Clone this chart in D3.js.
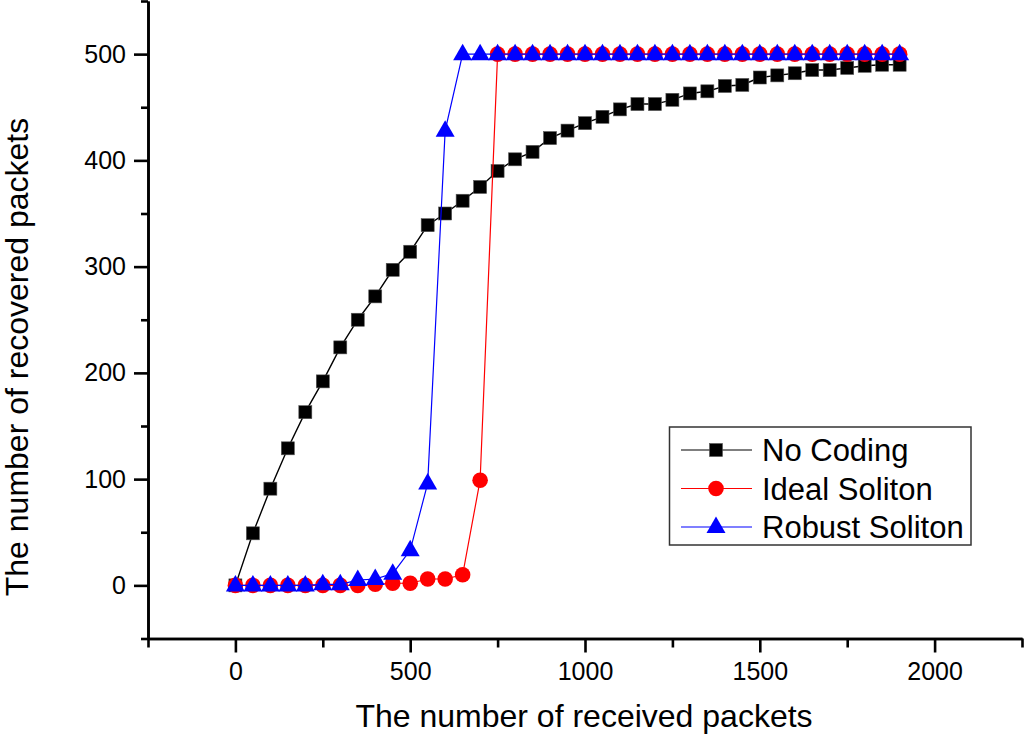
<!DOCTYPE html>
<html>
<head>
<meta charset="utf-8">
<script src="https://cdn.jsdelivr.net/npm/d3@7"></script>
<style>
  body { margin: 0; background: #fff; }
  svg { display: block; font-family: Arial, "Liberation Sans", sans-serif; }
</style>
</head>
<body>
<svg id="chart" width="1024" height="736"></svg>
<script>
// received packets (x), one value every 50 packets
var received = d3.range(0, 1901, 50);

var noCoding = [0, 49, 91, 129, 163, 192, 224, 250, 272, 297, 314, 339, 350, 362, 375, 390, 401,
  408, 421, 428, 435, 441, 448, 453, 453, 457, 463, 465, 470, 471, 478, 480, 482, 485, 485, 487, 489, 490, 490];

var idealSoliton = [0, 0, 0, 0, 0, 0, 0, 0, 1, 2, 2, 6, 6, 10, 99,
  500, 500, 500, 500, 500, 500, 500, 500, 500, 500, 500, 500, 500, 500, 500, 500, 500, 500, 500, 500, 500, 500, 500, 500];

var robustSoliton = [0, 0, 0, 0, 0, 1, 1, 5, 6, 11, 33, 96, 428,
  500, 500, 500, 500, 500, 500, 500, 500, 500, 500, 500, 500, 500, 500, 500, 500, 500, 500, 500, 500, 500, 500, 500, 500, 500, 500];

var seriesNames = ["No Coding", "Ideal Soliton", "Robust Soliton"];
var seriesColours = ["#000000", "#ff0000", "#0000ff"];
var xMajor = [0, 500, 1000, 1500, 2000];
var yMajor = [0, 100, 200, 300, 400, 500];

var svg = d3.select("#chart");

var x = d3.scaleLinear().domain([-250, 2250]).range([148, 1022]);
var y = d3.scaleLinear().domain([-50, 550]).range([638.5, 1]);

// minor ticks first, then the labelled axes on top
var xMinor = d3.range(-250, 2251, 250).filter(function(d) { return xMajor.indexOf(d) < 0; });
var yMinor = d3.range(-50, 551, 50).filter(function(d) { return yMajor.indexOf(d) < 0; });

svg.append("g")
  .attr("transform", "translate(0," + y(-50) + ")")
  .call(d3.axisBottom(x).tickValues(xMinor).tickSize(9).tickSizeOuter(0).tickFormat(""));

svg.append("g")
  .attr("transform", "translate(" + x(-250) + ",0)")
  .call(d3.axisLeft(y).tickValues(yMinor).tickSize(7).tickSizeOuter(0).tickFormat(""));

svg.append("g")
  .attr("transform", "translate(0," + y(-50) + ")")
  .call(d3.axisBottom(x).tickValues(xMajor).tickSize(14).tickSizeOuter(0).tickPadding(10)
    .tickFormat(d3.format("d")));

svg.append("g")
  .attr("transform", "translate(" + x(-250) + ",0)")
  .call(d3.axisLeft(y).tickValues(yMajor).tickSize(14).tickSizeOuter(0).tickPadding(8)
    .tickFormat(d3.format("d")));

svg.selectAll(".domain, .tick line")
  .attr("stroke", "#000")
  .attr("stroke-width", 2.6);

svg.selectAll(".tick text")
  .attr("fill", "#000")
  .attr("font-size", 25)
  .attr("font-family", "Arial, 'Liberation Sans', sans-serif");

// axis titles
svg.append("text")
  .attr("x", 584)
  .attr("y", 727)
  .attr("text-anchor", "middle")
  .attr("font-size", 32)
  .text("The number of received packets");

svg.append("text")
  .attr("transform", "translate(28," + 357 + ") rotate(-90)")
  .attr("text-anchor", "middle")
  .attr("font-size", 32)
  .text("The number of recovered packets");

// series
var allSeries = [noCoding, idealSoliton, robustSoliton];

var line = d3.line()
  .x(function(d, i) { return x(received[i]); })
  .y(function(d) { return y(d); });

var triangle = "M0,-10.5L9.5,6L-9.5,6Z";

function marker(sel, k) {
  if (k === 0) {
    sel.append("rect")
      .attr("x", -6.5).attr("y", -6.5)
      .attr("width", 13).attr("height", 13)
      .attr("fill", "#000")
      .attr("stroke", "#555")
      .attr("stroke-width", 0.6);
  } else if (k === 1) {
    sel.append("circle")
      .attr("r", 7.8)
      .attr("fill", seriesColours[1]);
  } else {
    sel.append("path")
      .attr("d", triangle)
      .attr("fill", seriesColours[2]);
  }
}

allSeries.forEach(function(values, k) {
  var g = svg.append("g");
  g.append("path")
    .datum(values)
    .attr("fill", "none")
    .attr("stroke", seriesColours[k])
    .attr("stroke-width", k === 0 ? 1.4 : 1.2)
    .attr("d", line);

  g.selectAll(null)
    .data(values)
    .enter().append("g")
    .attr("transform", function(d, i) { return "translate(" + x(received[i]) + "," + y(d) + ")"; })
    .each(function() { marker(d3.select(this), k); });
});

// legend
var legend = svg.append("g");
legend.append("rect")
  .attr("x", 669.5).attr("y", 427)
  .attr("width", 301.5).attr("height", 118)
  .attr("fill", "#fff")
  .attr("stroke", "#333")
  .attr("stroke-width", 1.5);

seriesNames.forEach(function(name, k) {
  var rowY = 450 + k * 38.5;
  var row = legend.append("g");
  row.append("line")
    .attr("x1", 681).attr("x2", 752)
    .attr("y1", rowY).attr("y2", rowY)
    .attr("stroke", seriesColours[k])
    .attr("stroke-width", 1.2);
  var m = row.append("g").attr("transform", "translate(716," + rowY + ")");
  marker(m, k);
  row.append("text")
    .attr("x", 762)
    .attr("y", rowY + 11)
    .attr("font-size", 31)
    .attr("fill", "#000")
    .text(name);
});
</script>
</body>
</html>
